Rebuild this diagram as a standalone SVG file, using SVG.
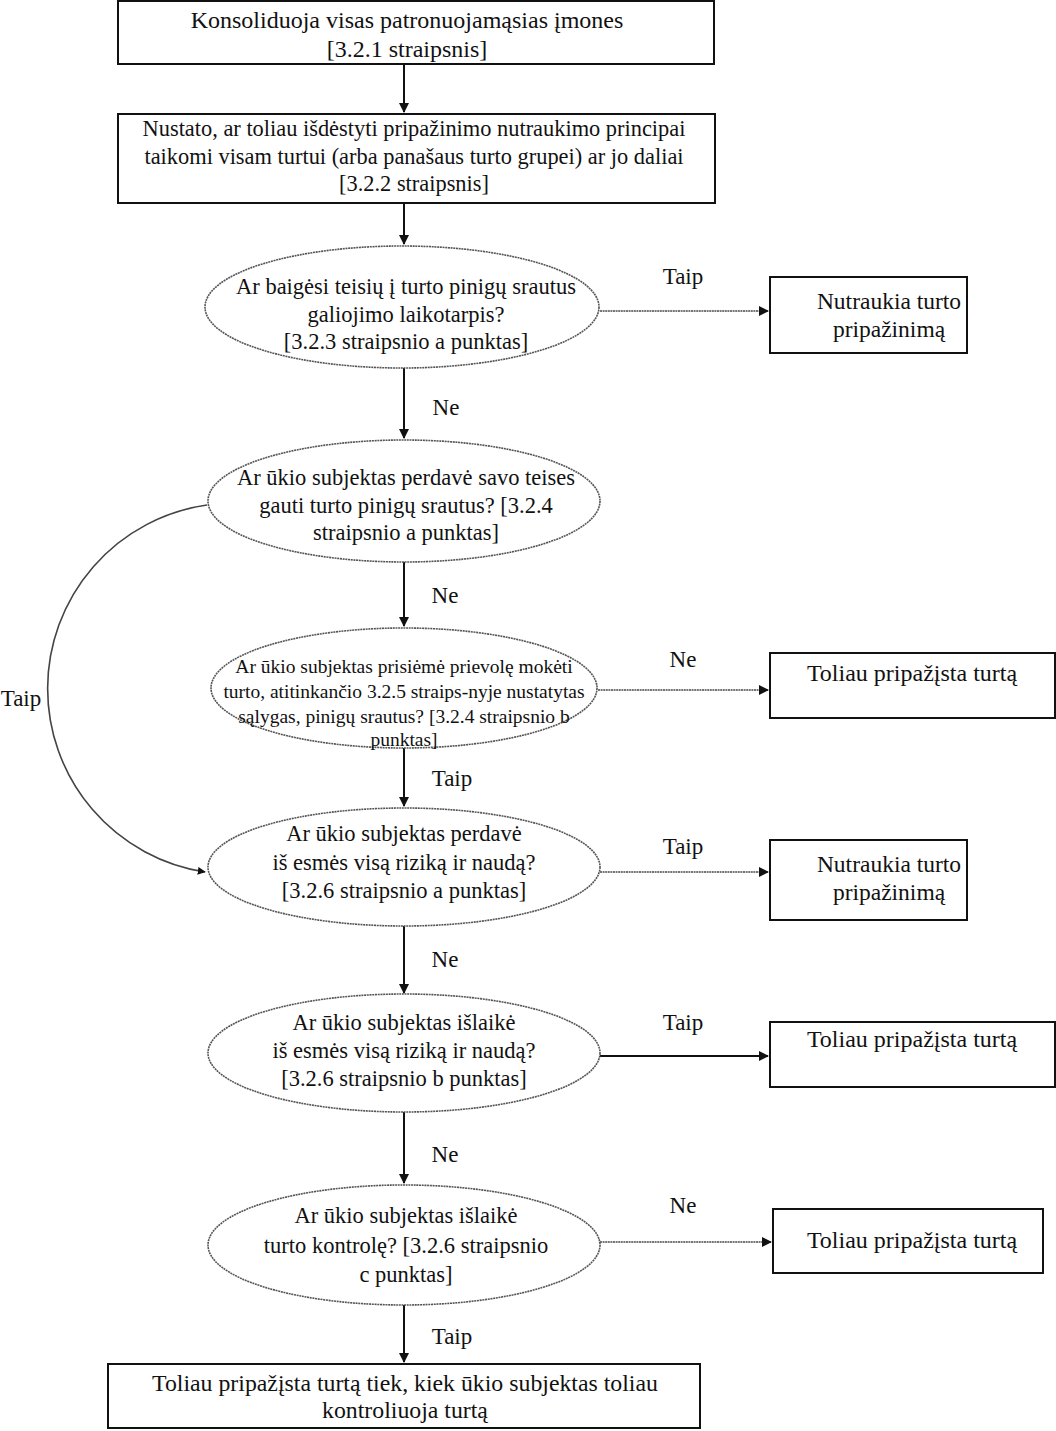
<svg xmlns="http://www.w3.org/2000/svg" width="1056" height="1431" viewBox="0 0 1056 1431">
<style>
text{font-family:"Liberation Serif","DejaVu Serif",serif;fill:#111;text-anchor:middle}
.t{font-size:22.5px}
.b1{font-size:24px}
.b2{font-size:22.4px}
.bf{font-size:23.8px}
.rb{font-size:24px}
.rn{font-size:23.5px}
.s{font-size:19.5px}
.l{font-size:23px}
.box{fill:#fff;stroke:#111;stroke-width:2}
.ell{fill:#fff;stroke:#555;stroke-width:1.6;stroke-dasharray:2 0.7}
.v{stroke:#111;stroke-width:2;fill:none}
.h{stroke:#777;stroke-width:2;fill:none;stroke-dasharray:2 0.6}
.hs{stroke:#111;stroke-width:2;fill:none}
</style>
<defs>
<marker id="ar" viewBox="0 0 10 10" refX="9" refY="5" markerWidth="5" markerHeight="5" orient="auto" markerUnits="strokeWidth">
<path d="M0,0 L10,5 L0,10 z" fill="#111"/>
</marker>
</defs>
<rect width="1056" height="1431" fill="#fff"/>
<g id="connectors">
<line class="v" x1="404" y1="64" x2="404" y2="112" marker-end="url(#ar)"/>
<line class="v" x1="404" y1="203" x2="404" y2="244" marker-end="url(#ar)"/>
<line class="v" x1="404" y1="368" x2="404" y2="438" marker-end="url(#ar)"/>
<line class="v" x1="404" y1="562" x2="404" y2="626" marker-end="url(#ar)"/>
<line class="v" x1="404" y1="748" x2="404" y2="806" marker-end="url(#ar)"/>
<line class="v" x1="404" y1="926" x2="404" y2="993" marker-end="url(#ar)"/>
<line class="v" x1="404" y1="1112" x2="404" y2="1183" marker-end="url(#ar)"/>
<line class="v" x1="404" y1="1305" x2="404" y2="1362" marker-end="url(#ar)"/>
<line class="h" x1="600" y1="311" x2="768" y2="311" marker-end="url(#ar)"/>
<line class="h" x1="598" y1="690" x2="768" y2="690" marker-end="url(#ar)"/>
<line class="h" x1="600" y1="872" x2="768" y2="872" marker-end="url(#ar)"/>
<line class="hs" x1="600" y1="1056" x2="768" y2="1056" marker-end="url(#ar)"/>
<line class="h" x1="600" y1="1242" x2="771" y2="1242" marker-end="url(#ar)"/>
<path class="v" style="stroke:#444;stroke-width:1.6" d="M207,505 A185.5,185.5 0 0 0 205,872" marker-end="url(#ar)"/>
<text class="l" x="683" y="284">Taip</text>
<text class="l" x="446" y="415">Ne</text>
<text class="l" x="445" y="603">Ne</text>
<text class="l" x="683" y="667">Ne</text>
<text class="l" x="21" y="706">Taip</text>
<text class="l" x="452" y="786">Taip</text>
<text class="l" x="683" y="854">Taip</text>
<text class="l" x="445" y="967">Ne</text>
<text class="l" x="683" y="1030">Taip</text>
<text class="l" x="445" y="1162">Ne</text>
<text class="l" x="683" y="1213">Ne</text>
<text class="l" x="452" y="1344">Taip</text>
</g>
<g id="n1">
<rect class="box" x="118" y="1" width="596" height="63"/>
<text class="b1" x="407" y="28">Konsoliduoja visas patronuojamąsias įmones</text>
<text class="b1" x="407" y="57">[3.2.1 straipsnis]</text>
</g>
<g id="n2">
<rect class="box" x="118" y="114" width="597" height="89"/>
<text class="b2" x="414" y="136">Nustato, ar toliau išdėstyti pripažinimo nutraukimo principai</text>
<text class="b2" x="414" y="164">taikomi visam turtui (arba panašaus turto grupei) ar jo daliai</text>
<text class="b2" x="414" y="191">[3.2.2 straipsnis]</text>
</g>
<g id="n3">
<ellipse class="ell" cx="402" cy="307" rx="197" ry="61"/>
<text class="t" x="406" y="294">Ar baigėsi teisių į turto pinigų srautus</text>
<text class="t" x="406" y="322">galiojimo laikotarpis?</text>
<text class="t" x="406" y="349">[3.2.3 straipsnio a punktas]</text>
</g>
<g id="n4">
<ellipse class="ell" cx="404" cy="501" rx="196" ry="61"/>
<text class="t" x="406" y="485">Ar ūkio subjektas perdavė savo teises</text>
<text class="t" x="406" y="513">gauti turto pinigų srautus? [3.2.4</text>
<text class="t" x="406" y="540">straipsnio a punktas]</text>
</g>
<g id="n5">
<ellipse class="ell" cx="404" cy="688" rx="193" ry="60"/>
<text class="s" x="404" y="673">Ar ūkio subjektas prisiėmė prievolę mokėti</text>
<text class="s" x="404" y="698">turto, atitinkančio 3.2.5 straips-nyje nustatytas</text>
<text class="s" x="404" y="723">sąlygas, pinigų srautus? [3.2.4 straipsnio b</text>
<text class="s" x="404" y="746">punktas]</text>
</g>
<g id="n6">
<ellipse class="ell" cx="404" cy="867" rx="196" ry="59"/>
<text class="t" x="404" y="841">Ar ūkio subjektas perdavė</text>
<text class="t" x="404" y="870">iš esmės visą riziką ir naudą?</text>
<text class="t" x="404" y="898">[3.2.6 straipsnio a punktas]</text>
</g>
<g id="n7">
<ellipse class="ell" cx="404" cy="1053" rx="196" ry="59"/>
<text class="t" x="404" y="1030">Ar ūkio subjektas išlaikė</text>
<text class="t" x="404" y="1058">iš esmės visą riziką ir naudą?</text>
<text class="t" x="404" y="1086">[3.2.6 straipsnio b punktas]</text>
</g>
<g id="n8">
<ellipse class="ell" cx="404" cy="1245" rx="196" ry="60"/>
<text class="t" x="406" y="1223">Ar ūkio subjektas išlaikė</text>
<text class="t" x="406" y="1253">turto kontrolę? [3.2.6 straipsnio</text>
<text class="t" x="406" y="1282">c punktas]</text>
</g>
<g id="n9">
<rect class="box" x="108" y="1364" width="592" height="64"/>
<text class="bf" x="405" y="1391">Toliau pripažįsta turtą tiek, kiek ūkio subjektas toliau</text>
<text class="bf" x="405" y="1418">kontroliuoja turtą</text>
</g>
<g id="r1">
<rect class="box" x="770" y="277" width="197" height="76"/>
<text class="rn" x="889" y="309">Nutraukia turto</text>
<text class="rn" x="889" y="337">pripažinimą</text>
</g>
<g id="r2">
<rect class="box" x="770" y="653" width="285" height="65"/>
<text class="rb" x="912" y="681">Toliau pripažįsta turtą</text>
</g>
<g id="r3">
<rect class="box" x="770" y="840" width="197" height="80"/>
<text class="rn" x="889" y="872">Nutraukia turto</text>
<text class="rn" x="889" y="900">pripažinimą</text>
</g>
<g id="r4">
<rect class="box" x="770" y="1022" width="285" height="65"/>
<text class="rb" x="912" y="1047">Toliau pripažįsta turtą</text>
</g>
<g id="r5">
<rect class="box" x="773" y="1209" width="270" height="64"/>
<text class="rb" x="912" y="1248">Toliau pripažįsta turtą</text>
</g>
</svg>
